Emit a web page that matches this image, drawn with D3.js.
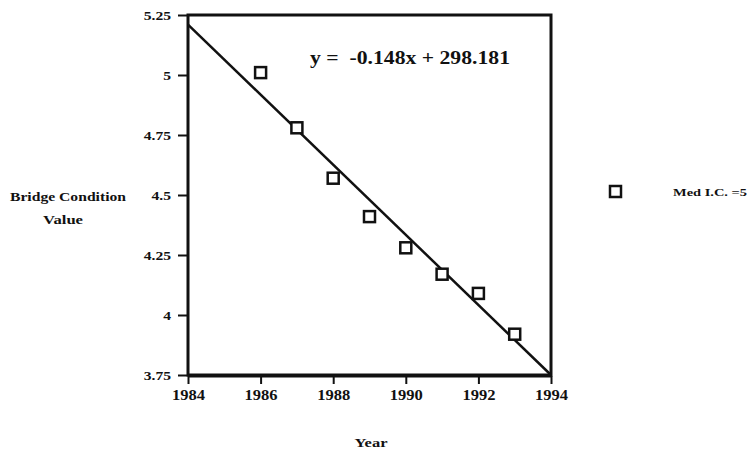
<!DOCTYPE html>
<html><head><meta charset="utf-8">
<script src="https://cdn.jsdelivr.net/npm/d3@7"></script>
<style>
body{margin:0;background:#fff;}
svg text{font-family:"Liberation Serif","Times New Roman",serif;font-weight:bold;fill:#111;}
</style></head>
<body><svg id="c" width="749" height="455"></svg>
<script>
const years = [1986, 1987, 1988, 1989, 1990, 1991, 1992, 1993];
const conditionValues = [5.01, 4.78, 4.57, 4.41, 4.28, 4.17, 4.09, 3.92];
const xTicks = [1984, 1986, 1988, 1990, 1992, 1994];
const yTicks = [3.75, 4, 4.25, 4.5, 4.75, 5, 5.25];
const yTickLabels = ["3.75", "4", "4.25", "4.5", "4.75", "5", "5.25"];
const trendX = [1984, 1994];
const trendY = [5.21, 3.745];
const equationText = "y =  -0.148x + 298.181";
const seriesName = "Med I.C. =5";

const svg = d3.select("#c");
const L = 188, R = 551, T = 15, B = 375;
const x = d3.scaleLinear().domain([1984, 1994]).range([L, R]);
const y = d3.scaleLinear().domain([3.75, 5.25]).range([B, T]);

// frame
svg.append("rect").attr("x", L).attr("y", T).attr("width", R - L).attr("height", B - T)
  .attr("fill", "none").attr("stroke", "#111").attr("stroke-width", 3);
svg.append("line").attr("x1", L).attr("x2", R).attr("y1", B + 1).attr("y2", B + 1)
  .attr("stroke", "#111").attr("stroke-width", 3);

function stretch(sel, f) {
  sel.each(function () {
    const w = this.getComputedTextLength();
    d3.select(this).attr("textLength", w * f).attr("lengthAdjust", "spacingAndGlyphs");
  });
}

// axes
const yAxis = d3.axisLeft(y).tickValues(yTicks).tickFormat((d, i) => yTickLabels[i]).tickSize(10).tickPadding(7);
const gy = svg.append("g").attr("transform", `translate(${L},0)`).call(yAxis);
gy.select(".domain").remove();
gy.selectAll("line").attr("stroke", "#111").attr("stroke-width", 2);
gy.selectAll("text").attr("font-size", 13).style("font-family", '"Liberation Serif",serif').style("font-weight", "bold");
stretch(gy.selectAll("text"), 1.2);

const xAxis = d3.axisBottom(x).tickValues(xTicks).tickFormat(d3.format("d")).tickSize(8).tickPadding(6);
const gx = svg.append("g").attr("transform", `translate(0,${B + 1})`).call(xAxis);
gx.select(".domain").remove();
gx.selectAll("line").attr("stroke", "#111").attr("stroke-width", 2);
gx.selectAll("text").attr("font-size", 14).style("font-family", '"Liberation Serif",serif').style("font-weight", "bold");
stretch(gx.selectAll("text"), 1.18);

// trend line
svg.append("line")
  .attr("x1", x(trendX[0])).attr("y1", y(trendY[0]))
  .attr("x2", x(trendX[1])).attr("y2", y(Math.max(trendY[1], 3.75)))
  .attr("stroke", "#111").attr("stroke-width", 2.5);

// points
const s = 11;
svg.append("g").selectAll("rect").data(years).join("rect")
  .attr("x", (d) => x(d) - s / 2).attr("y", (d, i) => y(conditionValues[i]) - s / 2)
  .attr("width", s).attr("height", s)
  .attr("fill", "#fff").attr("stroke", "#111").attr("stroke-width", 2.5);

// equation
svg.append("text").attr("x", 310).attr("y", 64).attr("font-size", 18)
  .attr("xml:space", "preserve").style("white-space", "pre")
  .attr("textLength", 200).attr("lengthAdjust", "spacingAndGlyphs").text(equationText);

// axis titles
svg.append("text").attr("x", 68).attr("y", 201).attr("text-anchor", "middle").attr("font-size", 12)
  .attr("textLength", 116).attr("lengthAdjust", "spacingAndGlyphs").text("Bridge Condition");
svg.append("text").attr("x", 63).attr("y", 224).attr("text-anchor", "middle").attr("font-size", 12)
  .attr("textLength", 40).attr("lengthAdjust", "spacingAndGlyphs").text("Value");
svg.append("text").attr("x", 371).attr("y", 447).attr("text-anchor", "middle").attr("font-size", 12)
  .attr("textLength", 33).attr("lengthAdjust", "spacingAndGlyphs").text("Year");

// legend
svg.append("rect").attr("x", 610).attr("y", 186).attr("width", 11).attr("height", 11)
  .attr("fill", "#fff").attr("stroke", "#111").attr("stroke-width", 2.5);
svg.append("text").attr("x", 673).attr("y", 196).attr("font-size", 11)
  .attr("textLength", 74).attr("lengthAdjust", "spacingAndGlyphs").text(seriesName);
</script></body></html>
